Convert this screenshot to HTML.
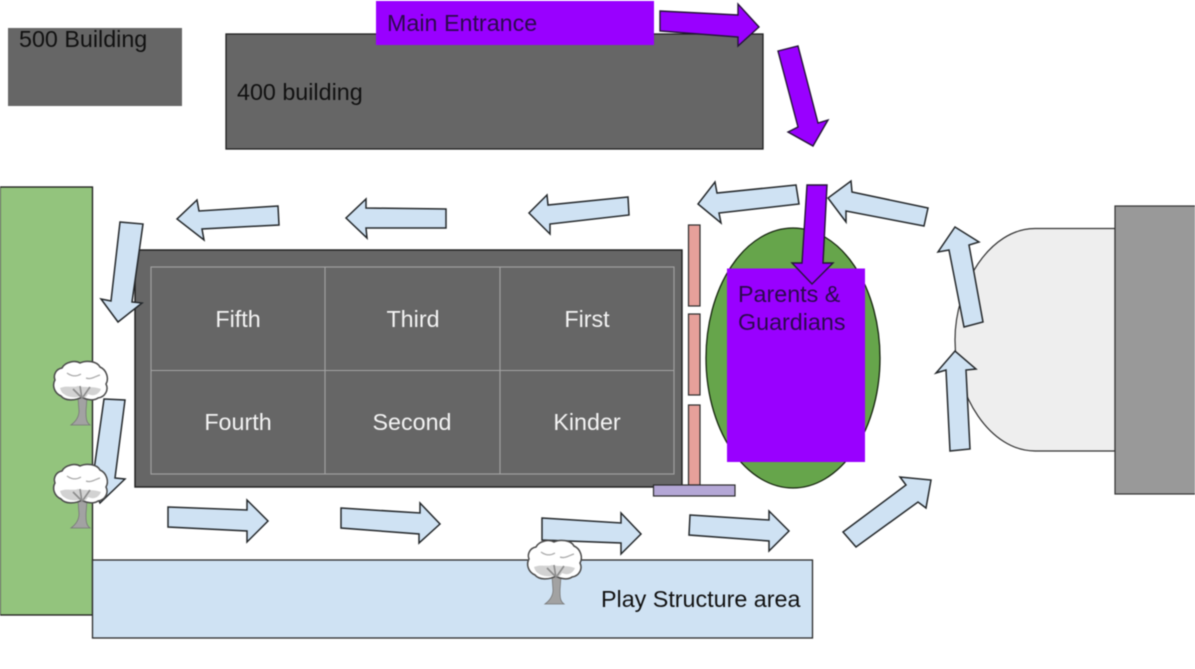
<!DOCTYPE html>
<html>
<head>
<meta charset="utf-8">
<style>
html,body{margin:0;padding:0;background:#fff;width:1195px;height:669px;overflow:hidden}
svg{display:block;filter:blur(0.45px)}
text{font-family:"Liberation Sans",sans-serif;font-size:23.3px}
.a{fill:#cfe2f3;stroke:#24282b;stroke-width:1.5;stroke-linejoin:miter}
.p{fill:#9900ff;stroke:#241538;stroke-width:1.4}
.w{fill:#f3f3f3;text-anchor:middle}
</style>
</head>
<body>
<svg width="1195" height="669" viewBox="0 0 1195 669" xmlns="http://www.w3.org/2000/svg">
<defs>
<g id="tree">
<path d="M25,36 L26,50 C26,57 22,61 18,64 L37,64 C33,61 33,57 33,50 L34,36Z" fill="#a2a2a2" stroke="#777" stroke-width=".8"/>
<path d="M9,7 C12,1 22,-1 27,2 C33,-1 44,0 47,6 C54,9 56,18 53,23 C56,29 52,36 45,37 C41,40 33,39 29,36 C22,40 12,40 8,35 C1,32 -1,24 2,19 C0,14 3,8 9,7Z" fill="#fff" stroke="#4a4a4a" stroke-width="1.5"/>
<path d="M14,12 C18,15 23,16 28,13 M33,17 C38,19 43,15 47,14" fill="none" stroke="#aaa" stroke-width="1.3"/>
<path d="M7,27 C14,24 20,27 25,25 C33,27 40,25 48,28 C46,33 41,36 35,33 C33,37 30,38 29,35 C24,37 16,37 11,33 C9,32 8,30 7,27Z" fill="#d2d2d2"/>
<path d="M29,38 L27,25 M30,36 L37,26 M28,36 L20,28" fill="none" stroke="#8c8c8c" stroke-width="1.6"/>
</g>
</defs>

<rect x="8" y="28" width="174" height="78" fill="#666"/>
<rect x="226" y="34" width="537" height="115" fill="#666" stroke="#1f1f1f" stroke-width="1.3"/>
<rect x="376" y="1" width="278" height="44" fill="#9900ff"/>
<text x="19" y="47" fill="#111">500 Building</text>
<text x="237" y="100" fill="#111">400 building</text>
<text x="387" y="31" fill="#2b0a4d">Main Entrance</text>

<polygon class="p" points="660,11 738,15 738,4 759,27 738,46 738,37 660,31"/>
<polygon class="p" points="778,51 798,46 818,123 828,120 813,146 788,132 798,127"/>

<rect x="0" y="187" width="92.500" height="428" fill="#93c47d" stroke="#1c1c1c" stroke-width="1.3"/>
<rect x="92.500" y="560" width="720" height="78" fill="#cfe2f3" stroke="#2b2b2b" stroke-width="1.3"/>
<text x="601" y="607" fill="#111">Play Structure area</text>

<rect x="135" y="250" width="547" height="237" fill="#666" stroke="#1c1c1c" stroke-width="1.4"/>
<g fill="none" stroke="#a3a3a3" stroke-width="1.1">
<rect x="151" y="267" width="523" height="207"/>
<path d="M325,267V474M500,267V474M151,370.500H674"/>
</g>
<text class="w" x="238" y="327">Fifth</text>
<text class="w" x="413" y="327">Third</text>
<text class="w" x="587" y="327">First</text>
<text class="w" x="238" y="430">Fourth</text>
<text class="w" x="412" y="430">Second</text>
<text class="w" x="587" y="430">Kinder</text>

<g fill="#e6a09a" stroke="#2b2b2b" stroke-width="1.2">
<rect x="688.500" y="225" width="11.500" height="81"/>
<rect x="688.500" y="314" width="11.500" height="81"/>
<rect x="688.500" y="405" width="11.500" height="80"/>
</g>
<rect x="653.500" y="485" width="81.500" height="11" fill="#b4a7d6" stroke="#2b2b2b" stroke-width="1.2"/>

<ellipse cx="793" cy="358" rx="87" ry="130" fill="#66a54b" stroke="#16240f" stroke-width="1.3"/>
<rect x="727" y="268.500" width="138" height="193.500" fill="#9900ff"/>
<text x="738" y="302" fill="#2b0a4d">Parents &amp;</text>
<text x="738" y="330" fill="#2b0a4d">Guardians</text>
<polygon class="p" points="807,185 827,185 823,263 833,263 812,284 792,263 802,263"/>

<path d="M1115,228.500 H1035 C990,228.500 955,285 955,340 C955,395 990,451 1035,451 H1115Z" fill="#eee" stroke="#333" stroke-width="1.2"/>
<rect x="1115" y="206" width="81" height="288" fill="#999" stroke="#333" stroke-width="1.2"/>

<polygon class="a" points="796,185 717,193 715,182 698,204 721,223 719,213 799,204"/>
<polygon class="a" points="928,208 852,192 851,181 828,198 846,222 846,211 924,226"/>
<polygon class="a" points="278,206 199,211 197,200 177,219 204,240 202,229 279,225"/>
<polygon class="a" points="446,209 366,208 366,199 346,218 367,238 366,228 446,228"/>
<polygon class="a" points="628,197 548,205 547,195 529,213 550,234 550,224 629,215"/>
<polygon class="a" points="120,222 143,224 132,302 142,303 118,322 101,299 111,301"/>
<polygon class="a" points="104,399 125,400 115,478 125,479 100,503 85,470 94,470"/>
<polygon class="a" points="168,507 247,510 247,500 268,521 247,542 247,531 168,527"/>
<polygon class="a" points="341,508 420,513 420,503 440,524 419,543 419,534 341,528"/>
<polygon class="a" points="542,518 621,523 621,513 641,534 621,554 621,543 542,540"/>
<polygon class="a" points="690,515 769,520 769,511 789,531 769,551 769,541 689,535"/>
<polygon class="a" points="843,532 906,485 900,477 931,480 926,508 918,502 856,547"/>
<polygon class="a" points="950,451 970,449 966,370 976,369 955,351 936,373 946,370"/>
<polygon class="a" points="964,327 983,322 969,245 979,242 955,227 938,252 949,250"/>

<use href="#tree" x="53" y="361"/>
<use href="#tree" x="53" y="464"/>
<use href="#tree" x="527" y="540"/>
</svg>
</body>
</html>
